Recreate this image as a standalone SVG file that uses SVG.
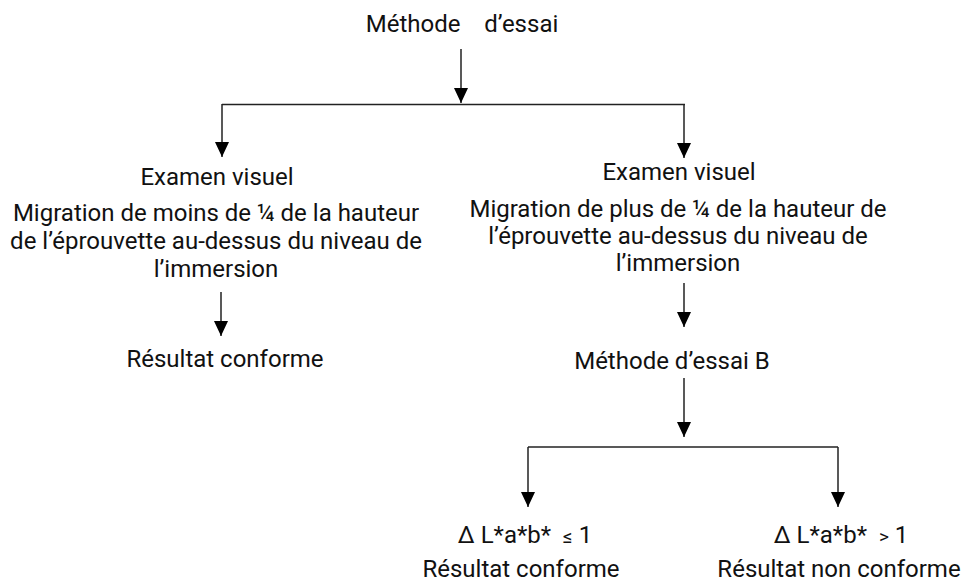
<svg xmlns="http://www.w3.org/2000/svg" width="963" height="584" viewBox="0 0 963 584">
<style>
text{font-family:Roboto,"Liberation Sans",sans-serif;font-size:24px;fill:#111;text-anchor:middle}
.ln{stroke:#222;stroke-width:1.5;fill:none}
.sm{font-size:19px}
</style>
<rect width="963" height="584" fill="#fff"/>
<g id="connectors">
<line class="ln" x1="222" y1="104.5" x2="685" y2="104.5"/>
<line class="ln" x1="528" y1="447" x2="838" y2="447"/>
<path d="M461,49 V103" class="ln"/><path d="M454,88 L468,88 L461,103 Z"/>
<path d="M222,104 V157" class="ln"/><path d="M215,142 L229,142 L222,157 Z"/>
<path d="M684,104 V158" class="ln"/><path d="M677,143 L691,143 L684,158 Z"/>
<path d="M221,292 V336" class="ln"/><path d="M214,321 L228,321 L221,336 Z"/>
<path d="M684,283 V327" class="ln"/><path d="M677,312 L691,312 L684,327 Z"/>
<path d="M684,378 V437" class="ln"/><path d="M677,422 L691,422 L684,437 Z"/>
<path d="M528,447 V507" class="ln"/><path d="M521,492 L535,492 L528,507 Z"/>
<path d="M838,447 V507" class="ln"/><path d="M831,492 L845,492 L838,507 Z"/>
</g>
<g id="n-title"><text x="462" y="32" xml:space="preserve">Méthode    d’essai</text></g>
<g id="n-left">
<text x="217" y="185">Examen visuel</text>
<text x="216" y="221">Migration de moins de ¼ de la hauteur</text>
<text x="216" y="249">de l’éprouvette au-dessus du niveau de</text>
<text x="216" y="277">l’immersion</text>
</g>
<g id="n-right">
<text x="679" y="180">Examen visuel</text>
<text x="678" y="217">Migration de plus de ¼ de la hauteur de</text>
<text x="678" y="244">l’éprouvette au-dessus du niveau de</text>
<text x="678" y="271">l’immersion</text>
</g>
<g id="n-res1"><text x="225" y="367">Résultat conforme</text></g>
<g id="n-methB"><text x="672" y="369">Méthode d’essai B</text></g>
<g id="n-le"><text x="525" y="543" xml:space="preserve">Δ L*a*b*  <tspan class="sm">≤</tspan> 1</text></g>
<g id="n-res2"><text x="521" y="577">Résultat conforme</text></g>
<g id="n-gt"><text x="841" y="543" xml:space="preserve">Δ L*a*b*  <tspan class="sm">&gt;</tspan> 1</text></g>
<g id="n-res3"><text x="839" y="577">Résultat non conforme</text></g>
</svg>
